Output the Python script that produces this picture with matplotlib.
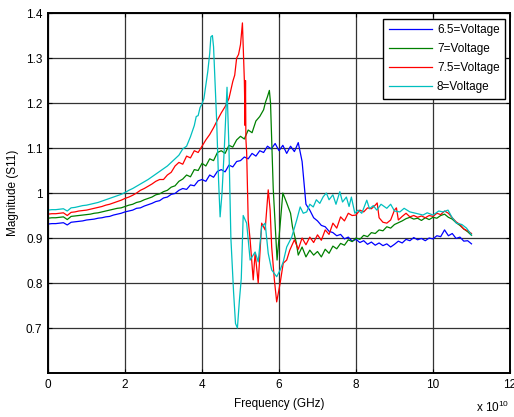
import numpy as np
import matplotlib
matplotlib.use("Agg")
import matplotlib.pyplot as plt

plt.rcParams['font.family'] = ['Liberation Sans', 'DejaVu Sans']
plt.rcParams['mathtext.default'] = 'regular'

# frequency in units of 1e10 Hz (axis shows "x 10^10")
freq_65 = [0.0, 0.1, 0.2, 0.3, 0.4, 0.5, 0.6, 0.7, 0.8, 0.9,
           1.0, 1.1, 1.2, 1.3, 1.4, 1.5, 1.6, 1.7, 1.8, 1.9,
           2.0, 2.1, 2.2, 2.3, 2.4, 2.5, 2.6, 2.7, 2.8, 2.9,
           3.0, 3.1, 3.2, 3.3, 3.4, 3.5, 3.6, 3.7, 3.8, 3.9,
           4.0, 4.1, 4.2, 4.3, 4.4, 4.5, 4.6, 4.7, 4.8, 4.9,
           5.0, 5.1, 5.2, 5.3, 5.4, 5.5, 5.6, 5.7, 5.8, 5.9,
           6.0, 6.1, 6.2, 6.3, 6.4, 6.5, 6.6, 6.7, 6.8, 6.9,
           7.0, 7.1, 7.2, 7.3, 7.4, 7.5, 7.6, 7.7, 7.8, 7.9,
           8.0, 8.1, 8.2, 8.3, 8.4, 8.5, 8.6, 8.7, 8.8, 8.9,
           9.0, 9.1, 9.2, 9.3, 9.4, 9.5, 9.6, 9.7, 9.8, 9.9,
           10.0, 10.1, 10.2, 10.3, 10.4, 10.5, 10.6, 10.7, 10.8, 10.9, 11.0]
mag_65 = [0.931, 0.932, 0.932, 0.933, 0.934, 0.929, 0.935, 0.936, 0.937, 0.938,
          0.940, 0.941, 0.942, 0.944, 0.945, 0.947, 0.948, 0.951, 0.953, 0.955,
          0.958, 0.960, 0.962, 0.966, 0.967, 0.971, 0.974, 0.977, 0.981, 0.983,
          0.989, 0.991, 0.997, 0.999, 1.006, 1.010, 1.008, 1.018, 1.016, 1.027,
          1.030, 1.026, 1.040, 1.035, 1.048, 1.052, 1.047, 1.062, 1.058, 1.070,
          1.072, 1.080, 1.076, 1.088, 1.082, 1.094, 1.090, 1.104, 1.098, 1.110,
          1.094, 1.106, 1.088, 1.104, 1.092, 1.112, 1.070, 0.975, 0.962, 0.945,
          0.938, 0.928, 0.925, 0.915, 0.912, 0.905, 0.908, 0.898, 0.902, 0.893,
          0.897, 0.890, 0.894, 0.886, 0.891, 0.884, 0.889, 0.883, 0.887, 0.880,
          0.886, 0.893, 0.889, 0.897, 0.894, 0.901, 0.896, 0.899, 0.894, 0.900,
          0.898, 0.905, 0.903, 0.918, 0.905, 0.910, 0.899, 0.902, 0.893, 0.894, 0.887]

freq_7 = [0.0, 0.1, 0.2, 0.3, 0.4, 0.5, 0.6, 0.7, 0.8, 0.9,
          1.0, 1.1, 1.2, 1.3, 1.4, 1.5, 1.6, 1.7, 1.8, 1.9,
          2.0, 2.1, 2.2, 2.3, 2.4, 2.5, 2.6, 2.7, 2.8, 2.9,
          3.0, 3.1, 3.2, 3.3, 3.4, 3.5, 3.6, 3.7, 3.8, 3.9,
          4.0, 4.1, 4.2, 4.3, 4.4, 4.5, 4.6, 4.7, 4.8, 4.9,
          5.0, 5.1, 5.2, 5.3, 5.4, 5.5, 5.6, 5.65, 5.7, 5.75,
          5.78, 5.85, 5.95, 6.05, 6.1, 6.2, 6.3, 6.35, 6.45, 6.5,
          6.6, 6.7, 6.8, 6.9, 7.0, 7.1, 7.2, 7.3, 7.4, 7.5,
          7.6, 7.7, 7.8, 7.9, 8.0, 8.1, 8.2, 8.3, 8.4, 8.5,
          8.6, 8.7, 8.8, 8.9, 9.0, 9.1, 9.2, 9.3, 9.4, 9.5,
          9.6, 9.7, 9.8, 9.9, 10.0, 10.1, 10.2, 10.3, 10.4, 10.5,
          10.6, 10.7, 10.8, 10.9, 11.0]
mag_7 = [0.944, 0.945, 0.945, 0.946, 0.947, 0.941, 0.948, 0.949, 0.950, 0.951,
         0.952, 0.953, 0.955, 0.956, 0.958, 0.960, 0.962, 0.964, 0.966, 0.967,
         0.970, 0.973, 0.975, 0.979, 0.981, 0.985, 0.988, 0.991, 0.996, 0.998,
         1.003, 1.006, 1.013, 1.016, 1.026, 1.031, 1.040, 1.036, 1.052, 1.050,
         1.066, 1.060, 1.076, 1.072, 1.090, 1.094, 1.088, 1.106, 1.102, 1.118,
         1.126, 1.120, 1.140, 1.134, 1.160, 1.170, 1.185, 1.202, 1.214, 1.228,
         1.200, 1.010, 0.851, 0.950, 1.000, 0.978, 0.955, 0.925, 0.889, 0.862,
         0.880, 0.858, 0.873, 0.862, 0.870, 0.858, 0.875, 0.866, 0.882, 0.876,
         0.888, 0.884, 0.896, 0.892, 0.900, 0.897, 0.906, 0.903, 0.912, 0.910,
         0.918, 0.916, 0.925, 0.922, 0.930, 0.934, 0.938, 0.943, 0.946, 0.942,
         0.944, 0.939, 0.945, 0.941, 0.946, 0.944, 0.950, 0.953, 0.946, 0.942,
         0.934, 0.928, 0.920, 0.914, 0.906]

freq_75 = [0.0, 0.1, 0.2, 0.3, 0.4, 0.5, 0.6, 0.7, 0.8, 0.9,
           1.0, 1.1, 1.2, 1.3, 1.4, 1.5, 1.6, 1.7, 1.8, 1.9,
           2.0, 2.1, 2.2, 2.3, 2.4, 2.5, 2.6, 2.7, 2.8, 2.9,
           3.0, 3.1, 3.2, 3.3, 3.4, 3.5, 3.6, 3.7, 3.8, 3.9,
           4.0, 4.1, 4.2, 4.3, 4.4, 4.5, 4.6, 4.7, 4.8, 4.85,
           4.9, 4.95, 5.0, 5.05, 5.1, 5.12, 5.13, 5.14, 5.16, 5.2,
           5.25, 5.33, 5.38, 5.46, 5.55, 5.64, 5.72, 5.77, 5.81, 5.88,
           5.94, 6.03, 6.11, 6.2, 6.28, 6.4, 6.5, 6.6, 6.7, 6.8,
           6.9, 7.0, 7.1, 7.2, 7.3, 7.4, 7.5, 7.6, 7.7, 7.8,
           7.9, 8.0, 8.1, 8.2, 8.3, 8.4, 8.5, 8.55, 8.6, 8.7,
           8.8, 8.9, 9.0, 9.05, 9.1, 9.2, 9.3, 9.4, 9.5, 9.6,
           9.7, 9.8, 9.9, 10.0, 10.1, 10.2, 10.3, 10.4, 10.5, 10.6,
           10.7, 10.8, 10.9, 11.0]
mag_75 = [0.953, 0.954, 0.954, 0.955, 0.956, 0.950, 0.957, 0.958, 0.960, 0.961,
          0.962, 0.964, 0.966, 0.968, 0.970, 0.973, 0.975, 0.978, 0.981, 0.984,
          0.988, 0.991, 0.995, 1.000, 1.006, 1.010, 1.015, 1.020, 1.026, 1.030,
          1.030, 1.040, 1.046, 1.060, 1.068, 1.064, 1.082, 1.078, 1.094, 1.090,
          1.104, 1.118, 1.130, 1.145, 1.162, 1.178, 1.192, 1.210, 1.248, 1.262,
          1.300, 1.308, 1.330, 1.378, 1.250, 1.150, 1.250, 1.120, 1.090, 0.940,
          0.896, 0.807, 0.867, 0.800, 0.933, 0.918, 1.007, 0.962, 0.880, 0.807,
          0.758, 0.800, 0.844, 0.851, 0.873, 0.896, 0.875, 0.900, 0.885, 0.902,
          0.890, 0.907, 0.895, 0.918, 0.908, 0.933, 0.922, 0.947, 0.938, 0.955,
          0.950, 0.951, 0.962, 0.958, 0.967, 0.965, 0.973, 0.978, 0.945, 0.935,
          0.933, 0.940, 0.962, 0.967, 0.940, 0.948, 0.955, 0.947, 0.950, 0.946,
          0.949, 0.945, 0.950, 0.948, 0.955, 0.952, 0.960, 0.955, 0.945, 0.936,
          0.930, 0.920, 0.916, 0.910]

freq_8 = [0.0, 0.1, 0.2, 0.3, 0.4, 0.5, 0.6, 0.7, 0.8, 0.9,
          1.0, 1.1, 1.2, 1.3, 1.4, 1.5, 1.6, 1.7, 1.8, 1.9,
          2.0, 2.1, 2.2, 2.3, 2.4, 2.5, 2.6, 2.7, 2.8, 2.9,
          3.0, 3.1, 3.2, 3.3, 3.4, 3.5, 3.6, 3.7, 3.8, 3.85,
          3.9, 3.95, 4.0, 4.05, 4.1, 4.15, 4.2, 4.23, 4.27, 4.3,
          4.38, 4.43, 4.47, 4.52, 4.58, 4.65, 4.7, 4.75, 4.82, 4.87,
          4.92, 4.97, 5.02, 5.07, 5.16, 5.25, 5.38, 5.46, 5.55, 5.64,
          5.72, 5.81, 5.94, 6.03, 6.11, 6.2, 6.33, 6.46, 6.55, 6.63,
          6.72, 6.8, 6.89, 6.97, 7.06, 7.15, 7.23, 7.3, 7.4, 7.48,
          7.58, 7.65, 7.75, 7.82, 7.88, 7.97, 8.05, 8.15, 8.28, 8.35,
          8.45, 8.54, 8.65, 8.8, 8.9, 9.0, 9.14, 9.25, 9.4, 9.55,
          9.74, 9.85, 10.0, 10.15, 10.26, 10.39, 10.5, 10.61, 10.75, 10.87, 11.0]
mag_8 = [0.962, 0.963, 0.963, 0.964, 0.965, 0.960, 0.967, 0.968, 0.970, 0.972,
         0.973, 0.975, 0.977, 0.979, 0.982, 0.985, 0.988, 0.991, 0.994, 0.997,
         1.001, 1.006, 1.010, 1.015, 1.020, 1.025, 1.030, 1.036, 1.042, 1.048,
         1.054, 1.060, 1.068, 1.076, 1.084, 1.098, 1.104, 1.125, 1.150, 1.170,
         1.172, 1.190, 1.198, 1.210, 1.240, 1.270, 1.310, 1.347, 1.350, 1.325,
         1.162, 1.029, 0.947, 1.000, 1.100, 1.235, 1.100, 0.900, 0.780, 0.710,
         0.700, 0.760, 0.810, 0.950, 0.933, 0.851, 0.869, 0.847, 0.925, 0.933,
         0.866, 0.829, 0.814, 0.829, 0.847, 0.880, 0.902, 0.940, 0.969, 0.955,
         0.958, 0.975, 0.969, 0.985, 0.977, 0.992, 1.000, 0.985, 0.996, 0.975,
         1.003, 0.980, 0.991, 0.970, 0.991, 0.955, 0.962, 0.955, 0.984, 0.965,
         0.972, 0.962, 0.975, 0.966, 0.975, 0.960, 0.958, 0.966, 0.958, 0.955,
         0.951, 0.956, 0.951, 0.960, 0.958, 0.962, 0.945, 0.933, 0.930, 0.922, 0.907]

labels = ['6.5=Voltage', '7=Voltage', '7.5=Voltage', '8=Voltage']
colors = ['#0000ff', '#008000', '#ff0000', '#00bfbf']

fig = plt.figure(figsize=(5.14, 4.17), dpi=100)
ax = fig.add_axes([0.0934, 0.1055, 0.8988, 0.8633])

series = [(freq_65, mag_65), (freq_7, mag_7), (freq_75, mag_75), (freq_8, mag_8)]
for (f, m), lab, c in zip(series, labels, colors):
    ax.plot(f, m, color=c, lw=0.9, label=lab)

ax.set_xlim(0, 12)
ax.set_ylim(0.6, 1.4)
ax.set_xticks([0, 2, 4, 6, 8, 10, 12])
ax.set_yticks([0.7, 0.8, 0.9, 1.0, 1.1, 1.2, 1.3, 1.4])
ax.set_yticklabels(['0.7', '0.8', '0.9', '1', '1.1', '1.2', '1.3', '1.4'])
ax.grid(True, color='0.2', lw=0.9, ls='-')
ax.set_axisbelow(True)
ax.tick_params(direction='in', length=3, width=0.8, top=True, right=True,
               labelsize=8.5, pad=4, colors='black')
for s in ax.spines.values():
    s.set_linewidth(1.4)

ax.set_xlabel('Frequency (GHz)', fontsize=8.5, labelpad=5)
ax.set_ylabel('Magnitude (S11)', fontsize=8.5, labelpad=5)
fig.text(0.926, 0.012, r'x 10$^{10}$', fontsize=8.5, ha='left', va='baseline')

# legend box like the matlab one
leg = ax.legend(loc='upper right', bbox_to_anchor=(0.989, 0.984), fontsize=8.5,
                handlelength=3.7, handletextpad=0.4, labelspacing=0.6,
                borderpad=0.45, borderaxespad=0.0, fancybox=False, framealpha=1)
leg.get_frame().set_edgecolor('black')
leg.get_frame().set_linewidth(1.0)

fig.savefig('out.png', dpi=100)
